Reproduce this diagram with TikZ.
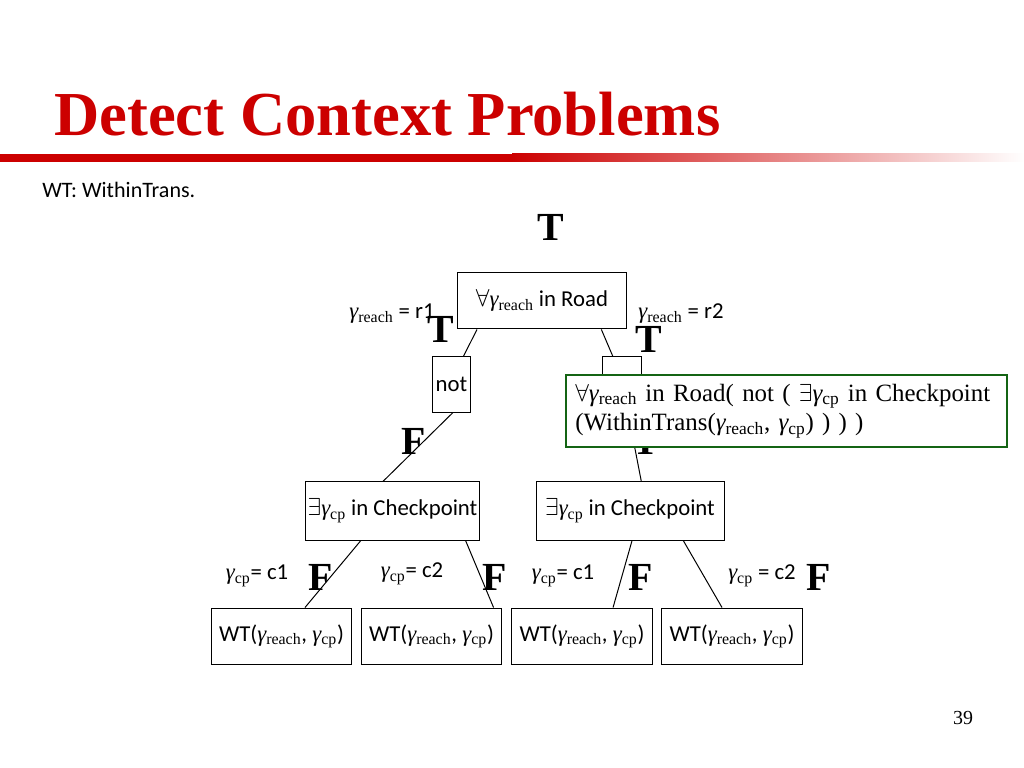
\documentclass[tikz,border=0pt]{standalone}
\usepackage{fontspec}
\setmainfont{Liberation Serif}
\newfontfamily\calibri{Carlito}
\usepackage{xcolor}

\definecolor{titlered}{RGB}{204,0,0}
\definecolor{boxgreen}{RGB}{20,100,20}
\newcommand{\gm}[1]{{\rmfamily\itshape γ}\textsubscript{\rmfamily\upshape #1}}

\begin{document}
\begin{tikzpicture}[x=0.703125pt, y=-0.703125pt,
	box/.style={draw, line width=0.7pt, inner sep=1pt, font=\calibri\fontsize{16}{19}\selectfont},
	lbl/.style={font=\calibri\fontsize{16}{19}\selectfont},
	tf/.style={font=\fontsize{28}{28}\selectfont\bfseries}]
	\useasboundingbox (0, 0) rectangle (1024, 768);

	% Title and bar
	\node[anchor=base west, text=titlered, inner sep=0pt, font=\fontsize{44}{44}\selectfont\bfseries] (title) at (54, 136) {Detect Context Problems};
	\fill[titlered] (0, 154) rectangle (512, 162);
	\shade[left color=titlered, right color=white] (512, 154) rectangle (1024, 162);
	\node[anchor=west, inner sep=0pt, font=\calibri\fontsize{15.5}{18}\selectfont] (wt) at (42, 190) {WT: WithinTrans.};
	\node[font=\fontsize{14}{14}\selectfont] (page) at (963, 718) {39};

	% Nodes of the tree
	\node[box, minimum width=119.5pt, minimum height=40pt] (road) at (542, 300.5) {$\forall$\gm{reach} in Road};
	\node[box, minimum width=27.4pt, minimum height=38.7pt] (not) at (451.5, 384.5) {not};
	\node[box, minimum width=28pt, minimum height=38.7pt] (inner) at (622, 384.5) {};
	\node[box, minimum width=123pt, minimum height=40.8pt] (cpL) at (392.5, 511) {$\exists$\gm{cp} in Checkpoint};
	\node[box, minimum width=132.2pt, minimum height=40.8pt] (cpR) at (630, 511) {$\exists$\gm{cp} in Checkpoint};
	\node[box, minimum width=99.1pt, minimum height=40pt] (wt1) at (281.5, 636.5) {WT(\gm{reach}, \gm{cp})};
	\node[box, minimum width=99.1pt, minimum height=40pt] (wt2) at (431.5, 636.5) {WT(\gm{reach}, \gm{cp})};
	\node[box, minimum width=99.1pt, minimum height=40pt] (wt3) at (582, 636.5) {WT(\gm{reach}, \gm{cp})};
	\node[box, minimum width=99.1pt, minimum height=40pt] (wt4) at (732, 636.5) {WT(\gm{reach}, \gm{cp})};

	% Draw the edges between nodes
	\draw[line width=0.7pt] (road.-156) -- (not.67);
	\draw[line width=0.7pt] (road.-26) -- (inner.108);
	\draw[line width=0.7pt] (not.-87) -- (cpL.108);
	\draw[line width=0.7pt] (inner.-78.5) -- (cpR.69);
	\draw[line width=0.7pt] (cpL.-137.4) -- (wt1.51.7);
	\draw[line width=0.7pt] (cpL.-22.9) -- (wt2.25.2);
	\draw[line width=0.7pt] (cpR.-86) -- (wt3.43.5);
	\draw[line width=0.7pt] (cpR.-29.1) -- (wt4.109.3);

	% Labels of the edges
	\node[lbl] (r1) at (392, 314) {\gm{reach} = r1};
	\node[lbl] (r2) at (681, 314) {\gm{reach} = r2};
	\node[lbl] (c1L) at (257, 576) {\gm{cp}= c1};
	\node[lbl] (c2L) at (412, 574) {\gm{cp}= c2};
	\node[lbl] (c1R) at (563, 576) {\gm{cp}= c1};
	\node[lbl] (c2R) at (762, 576) {\gm{cp} = c2};

	% Truth values
	\node[tf] (vRoot) at (551, 227) {T};
	\node[tf] (vR1) at (441, 329) {T};
	\node[tf] (vR2) at (649, 339) {T};
	\node[tf] (vNot) at (414, 441) {F};
	\node[tf] (vInner) at (646, 441) {T};
	\node[tf] (vC1L) at (321, 577) {F};
	\node[tf] (vC2L) at (495, 577) {F};
	\node[tf] (vC1R) at (641, 577) {F};
	\node[tf] (vC2R) at (819, 577) {F};

	% Formula box
	\node[draw=boxgreen, line width=2pt, fill=white, align=left, inner xsep=6.5pt, text width=297pt, minimum height=50.6pt, font=\fontsize{17.5}{21}\selectfont] (formula) at (786.5, 411)
		{\mbox{$\forall$\gm{reach} in Road( not ( $\exists$\gm{cp} in Checkpoint}\\\mbox{(WithinTrans(\gm{reach}, \gm{cp}) ) ) )}};
\end{tikzpicture}
\end{document}
